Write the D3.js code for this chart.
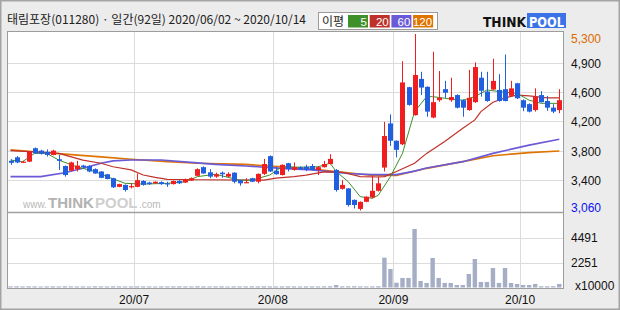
<!DOCTYPE html>
<html>
<head>
<meta charset="utf-8">
<script src="https://cdnjs.cloudflare.com/ajax/libs/d3/7.8.5/d3.min.js"></script>
<style>
  body { margin: 0; background: #ececec; }
  svg { display: block; }
</style>
</head>
<body>
<div id="vis"></div>
<script>
// 태림포장 daily candles, 2020/06/02 ~ 2020/10/14 (92 trading days)
let opens = [3690,3735,3670,3680,3850,3820,3805,3765,3710,3625, 3565,3585,3630,3625,3585,3555,3520,3470,3360,3385,
  3365,3360,3435,3415,3405,3420,3405,3395,3435,3415, 3440,3500,3610,3545,3490,3540,3490,3540,3445,3415,
  3470,3425,3525,3750,3565,3510,3660,3575,3610,3615, 3625,3575,3610,3650,3575,3335,3340,3195,3080,3170,
  3225,3310,3605,4165,3945,3900,4625,4270,4730,4630, 4240,4460,4600,4460,4525,4460,4335,4435,4745,4570,
  4595,4590,4600,4515,4675,4460,4410,4335,4525,4450, 4365,4335]
let highs = [3710,3750,3690,3815,3860,3830,3835,3830,3765,3630, 3680,3690,3640,3635,3595,3560,3525,3475,3400,3390,
  3405,3530,3445,3425,3430,3430,3425,3440,3445,3465, 3480,3595,3620,3585,3540,3555,3545,3545,3450,3470,
  3475,3530,3715,3760,3615,3645,3665,3670,3620,3640, 3650,3625,3690,3775,3585,3445,3345,3200,3175,3240,
  3500,3490,4185,4280,3950,4955,4630,5300,4820,4635, 5075,4830,4705,4745,4535,4470,4845,4940,4820,4820,
  4985,4790,5040,4705,4680,4470,4420,4610,4575,4515, 4410,4600]
let lows = [3640,3660,3665,3675,3780,3770,3745,3760,3575,3490, 3560,3555,3600,3545,3525,3470,3455,3345,3355,3300,
  3340,3355,3375,3385,3400,3385,3360,3390,3395,3410, 3435,3495,3525,3470,3475,3475,3485,3405,3375,3410,
  3420,3405,3510,3550,3515,3505,3555,3565,3575,3560, 3570,3510,3605,3645,3300,3325,3110,3085,3060,3165,
  3215,3300,3555,3880,3735,3890,4390,4265,4525,4250, 4230,4440,4490,4440,4355,4250,4325,4425,4505,4440,
  4590,4440,4445,4510,4475,4320,4305,4315,4430,4325, 4295,4295]
let closes = [3665,3670,3680,3805,3785,3780,3765,3820,3690,3510, 3670,3630,3610,3555,3530,3475,3460,3355,3395,3320,
  3370,3445,3385,3395,3425,3395,3395,3435,3405,3455, 3470,3585,3530,3490,3520,3520,3525,3425,3405,3420,
  3425,3525,3650,3555,3520,3640,3585,3610,3585,3575, 3575,3610,3650,3715,3320,3385,3130,3130,3170,3235,
  3310,3405,4005,3945,3830,4685,4400,4780,4620,4315, 4435,4490,4555,4500,4365,4365,4490,4880,4580,4450,
  4705,4450,4450,4610,4485,4365,4315,4500,4435,4365, 4315,4460]
// volume, x10000 shares
let volumes = [100,110,95,105,100,90,100,105,95,110, 100,95,100,90,105,100,95,110,100,95,
  100,105,95,100,90,100,95,100,105,100, 95,110,100,95,100,105,90,100,95,100,
  105,100,110,100,95,100,105,100,95,100, 100,95,100,110,225,100,105,110,100,95,
  100,110,2690,1670,430,860,860,5280,590,410, 2660,860,410,410,225,225,1220,2570,500,500,
  1760,410,1760,410,320,225,225,320,110,110, 110,320]

// moving averages: [day index, price]
let ma5 = [[0,3700],[2,3680],[4,3785],[6,3785],[8,3700],[11,3615],[14,3555],[16,3490],[19,3405],[22,3395],
  [26,3405],[29,3425],[31,3490],[34,3520],[38,3445],[40,3445],[43,3510],[45,3615],[48,3610],[51,3615],
  [53,3660],[54,3555],[56,3425],[58,3235],[60,3215],[61,3255],[63,3490],[65,3785],[67,4315],[69,4505],
  [70,4505],[73,4475],[75,4460],[77,4505],[79,4590],[81,4570],[84,4545],[86,4460],[88,4420],[91,4420]]
let ma20 = [[0,3820],[4,3805],[8,3785],[12,3700],[15,3660],[17,3615],[20,3575],[22,3510],[24,3480],[26,3455],
  [31,3450],[42,3445],[44,3470],[47,3490],[49,3510],[52,3550],[55,3545],[58,3490],[61,3485],[62,3490],
  [64,3555],[67,3660],[69,3785],[72,3935],[75,4105],[77,4210],[78,4315],[80,4435],[82,4490],[84,4525],
  [86,4515],[89,4490],[91,4490]]
let ma60 = [[0,3490],[5,3490],[9,3540],[12,3595],[15,3660],[17,3690],[20,3700],[25,3700],[31,3665],[34,3645],
  [39,3625],[45,3595],[50,3575],[56,3530],[60,3515],[64,3515],[67,3560],[69,3600],[75,3680],[80,3785],
  [86,3890],[91,3965]]
let ma120 = [[0,3830],[4,3805],[9,3775],[15,3740],[20,3710],[26,3680],[31,3660],[39,3645],[45,3615],[50,3585],
  [56,3540],[60,3505],[64,3505],[69,3595],[75,3680],[80,3755],[86,3795],[91,3815]]

let monthTicks = [21, 44, 64, 85]
let monthLabels = ['20/07', '20/08', '20/09', '20/10']
let priceGrid = [4926, 4558, 4190, 3815, 3447]
let priceLabels = ['4,900', '4,600', '4,200', '3,800', '3,400']
let priceMax = 5300, priceMin = 3060
let volGrid = [4491, 2251]
let maNames = ['5', '20', '60', '120']

let width = 620, height = 310
let plot = { left: 7, right: 563, top: 31, split: 212, bottom: 288 }
let colors = { up: '#f01e1e', down: '#1f5fe0', ma5: '#3f8f2a', ma20: '#c0302a', ma60: '#6a5ad8', ma120: '#e07400', vol: '#a6aec6', grid: '#dcdcdc' }

let svg = d3.select('#vis')
  .append('svg')
  .attr('width', width)
  .attr('height', height)
  .attr('viewBox', [0, 0, width, height].join(' '))
  .style('font-family', '"Liberation Sans", Arial, sans-serif')

// outer frame
svg.append('rect')
  .attr('x', 0.5).attr('y', 0.5)
  .attr('width', width - 1).attr('height', height - 1)
  .attr('fill', '#ececec')
  .attr('stroke', '#a4a4a4')
  .attr('stroke-width', 2)

// plotting area
svg.append('rect')
  .attr('x', plot.left + 0.5).attr('y', plot.top + 0.5)
  .attr('width', plot.right - plot.left).attr('height', plot.bottom - plot.top)
  .attr('fill', 'white')
  .attr('stroke', '#9c9c9c')

let x = d3.scaleBand()
  .domain(d3.range(closes.length))
  .range([plot.left + 0.5, plot.right - 0.7])
let cx = i => x(i) + x.bandwidth() / 2

let y = d3.scaleLinear().domain([priceMin, priceMax]).range([210.5, 34])
let yv = d3.scaleLinear().domain([0, 4491]).range([287.5, 237.7])

// grid
svg.append('g').selectAll('line')
  .data(priceGrid)
  .join('line')
  .attr('x1', plot.left + 1).attr('x2', plot.right)
  .attr('y1', d => Math.round(y(d)) + 0.5).attr('y2', d => Math.round(y(d)) + 0.5)
  .attr('stroke', colors.grid)
svg.append('g').selectAll('line')
  .data(volGrid)
  .join('line')
  .attr('x1', plot.left + 1).attr('x2', plot.right)
  .attr('y1', d => Math.round(yv(d)) + 0.5).attr('y2', d => Math.round(yv(d)) + 0.5)
  .attr('stroke', colors.grid)
svg.append('g').selectAll('line')
  .data(monthTicks)
  .join('line')
  .attr('x1', d => Math.round(x(d)) + 0.5).attr('x2', d => Math.round(x(d)) + 0.5)
  .attr('y1', plot.top + 1).attr('y2', plot.bottom)
  .attr('stroke', colors.grid)

// watermark pieces, side by side
let wmParts = [
  { t: 'www.', x: 23, size: 10, bold: false, fill: '#b8b8b8' },
  { t: 'THINK', x: 48, size: 15, bold: true, fill: '#b2b2b2' },
  { t: 'POOL', x: 95, size: 15, bold: true, fill: '#cfcfcf' },
  { t: '.com', x: 139, size: 10, bold: false, fill: '#b8b8b8' }
]
svg.append('g').selectAll('text')
  .data(wmParts)
  .join('text')
  .attr('x', d => d.x).attr('y', 208)
  .attr('font-size', d => d.size)
  .attr('font-weight', d => d.bold ? 'bold' : 'normal')
  .attr('fill', d => d.fill)
  .text(d => d.t)

// pane separator
svg.append('line')
  .attr('x1', plot.left).attr('x2', plot.right + 0.5)
  .attr('y1', plot.split + 0.5).attr('y2', plot.split + 0.5)
  .attr('stroke', '#a0a0a0')
  .attr('stroke-width', 1.5)

// volume bars
svg.append('g').selectAll('rect')
  .data(volumes)
  .join('rect')
  .attr('x', (d, i) => cx(i) - 2.2)
  .attr('width', 4.4)
  .attr('y', d => yv(d))
  .attr('height', d => yv(0) - yv(d))
  .attr('fill', colors.vol)

// moving averages
let line = d3.line().x(d => cx(d[0])).y(d => y(d[1]))
let maList = [[ma120, colors.ma120, 1.6], [ma60, colors.ma60, 1.6], [ma20, colors.ma20, 1.2], [ma5, colors.ma5, 1]]
svg.append('g').selectAll('path')
  .data(maList)
  .join('path')
  .attr('d', d => line(d[0]))
  .attr('fill', 'none')
  .attr('stroke', d => d[1])
  .attr('stroke-width', d => d[2])

// candles
let candles = svg.append('g').selectAll('g')
  .data(closes.map((c, i) => ({ i: i, o: opens[i], h: highs[i], l: lows[i], c: c })))
  .join('g')
  .attr('fill', d => d.c >= d.o ? colors.up : colors.down)
  .attr('stroke', d => d.c >= d.o ? colors.up : colors.down)
candles.append('line')
  .attr('x1', d => Math.round(cx(d.i)) + 0.5).attr('x2', d => Math.round(cx(d.i)) + 0.5)
  .attr('y1', d => y(d.h)).attr('y2', d => y(d.l))
candles.append('rect')
  .attr('stroke', 'none')
  .attr('x', d => Math.round(cx(d.i)) - 2)
  .attr('width', 5)
  .attr('y', d => y(Math.max(d.o, d.c)))
  .attr('height', d => Math.max(1.2, Math.abs(y(d.o) - y(d.c))))

// right labels
let lab = svg.append('g').attr('font-size', 12).attr('fill', '#111')
lab.selectAll('text.p')
  .data(priceGrid)
  .join('text')
  .attr('class', 'p')
  .attr('x', 571).attr('y', d => y(d) + 4.5)
  .text((d, i) => priceLabels[i])
lab.append('text').attr('x', 571).attr('y', 42.5).attr('fill', '#dc6a00').text(d3.format(',')(priceMax))
lab.append('text').attr('x', 571).attr('y', 211.5).attr('fill', '#0a14f0').text(d3.format(',')(priceMin))
lab.selectAll('text.v')
  .data(volGrid)
  .join('text')
  .attr('class', 'v')
  .attr('x', 571).attr('y', d => yv(d) + 4.5)
  .text(d => d)
lab.append('text').attr('x', 575).attr('y', 289.5).text('x10000')

// month labels
svg.append('g').selectAll('text')
  .data(monthTicks)
  .join('text')
  .attr('x', d => x(d))
  .attr('y', 304)
  .attr('text-anchor', 'middle')
  .attr('font-size', 12)
  .attr('fill', '#111')
  .text((d, i) => monthLabels[i])

// title
svg.append('text')
  .attr('x', 7).attr('y', 24)
  .attr('font-size', 12)
  .attr('fill', '#222')
  .style('font-family', '"Noto Sans CJK KR", sans-serif')
  .text('태림포장(011280) · 일간(92일) 2020/06/02 ~ 2020/10/14')

// MA legend
svg.append('rect')
  .attr('x', 318.5).attr('y', 12.5).attr('width', 119).attr('height', 17)
  .attr('fill', 'white').attr('stroke', '#9a9a9a')
svg.append('text')
  .attr('x', 322).attr('y', 25.5)
  .attr('font-size', 12)
  .attr('fill', '#222')
  .style('font-family', '"Noto Sans CJK KR", sans-serif')
  .text('이평')
let legColors = [colors.ma5, colors.ma20, colors.ma60, colors.ma120]
let leg = svg.append('g').selectAll('g')
  .data(maNames)
  .join('g')
  .attr('transform', (d, i) => 'translate(' + (348 + i * 21.7) + ',15)')
leg.append('rect')
  .attr('width', 20).attr('height', 12.5)
  .attr('fill', (d, i) => legColors[i])
leg.append('text')
  .attr('x', 19).attr('y', 10.5)
  .attr('text-anchor', 'end')
  .attr('font-size', 11.5)
  .attr('fill', 'white')
  .text(d => d)

// THINKPOOL logo
let logo = svg.append('g').style('font-family', '"DejaVu Sans", sans-serif').attr('font-weight', 'bold')
logo.append('text').attr('x', 483).attr('y', 27).attr('font-size', 14).attr('fill', '#111')
  .attr('textLength', 43).attr('lengthAdjust', 'spacingAndGlyphs').text('THINK')
logo.append('rect').attr('x', 527).attr('y', 13).attr('width', 39).attr('height', 15).attr('fill', '#3b73e6')
logo.append('text').attr('x', 529).attr('y', 27).attr('font-size', 14).attr('fill', 'white')
  .attr('textLength', 35).attr('lengthAdjust', 'spacingAndGlyphs').text('POOL')
</script>
</body>
</html>
